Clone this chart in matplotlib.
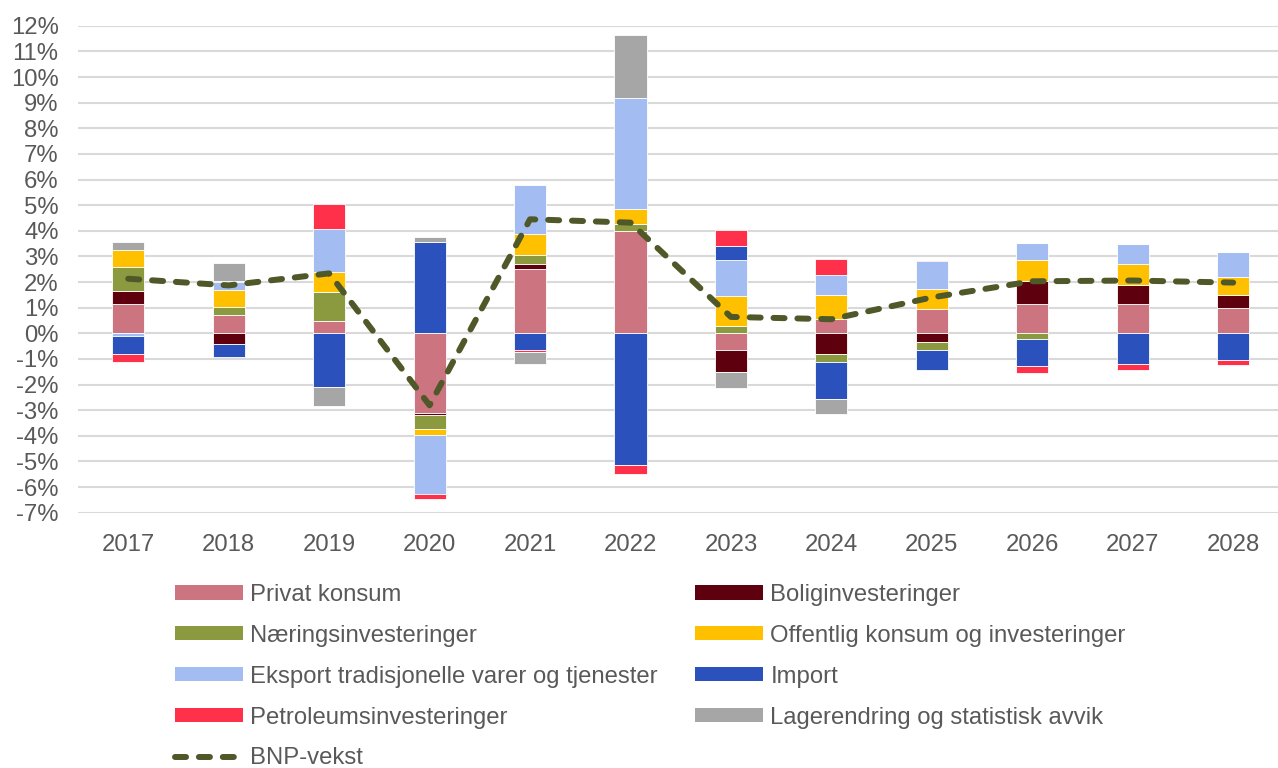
import matplotlib.pyplot as plt
import numpy as np
from matplotlib.patches import Patch
from matplotlib.lines import Line2D

plt.rcParams['font.family'] = ['Liberation Sans', 'DejaVu Sans']

years = ['2017', '2018', '2019', '2020', '2021', '2022', '2023', '2024', '2025', '2026', '2027', '2028']

# contributions to GDP growth, percentage points
privat = [1.13, 0.70, 0.48, -3.10, 2.50, 4.00, -0.66, 0.55, 0.96, 1.13, 1.14, 1.00]
bolig = [0.51, -0.40, 0.00, -0.09, 0.20, 0.00, -0.86, -0.79, -0.35, 0.90, 0.74, 0.50]
naering = [0.94, 0.31, 1.14, -0.55, 0.35, 0.28, 0.29, -0.34, -0.31, -0.23, 0.00, 0.00]
offentlig = [0.69, 0.68, 0.79, -0.23, 0.83, 0.59, 1.18, 0.93, 0.76, 0.85, 0.82, 0.70]
eksport = [-0.10, 0.30, 1.66, -2.30, 1.90, 4.30, 1.38, 0.78, 1.09, 0.66, 0.78, 0.96]
importv = [-0.72, -0.52, -2.10, 3.57, -0.65, -5.15, 0.56, -1.42, -0.78, -1.05, -1.18, -1.03]
petroleum = [-0.30, 0.07, 0.97, -0.20, -0.07, -0.33, 0.64, 0.65, 0.07, -0.26, -0.26, -0.20]
lager = [0.30, 0.68, -0.73, 0.17, -0.49, 2.47, -0.60, -0.59, 0.00, 0.00, 0.00, 0.00]
bnp = [2.13, 1.87, 2.34, -2.81, 4.45, 4.32, 0.64, 0.55, 1.40, 2.03, 2.06, 1.98]

series = [
    ('Privat konsum', privat, '#CC7480'),
    ('Boliginvesteringer', bolig, '#5E000E'),
    ('Næringsinvesteringer', naering, '#8C9A3F'),
    ('Offentlig konsum og investeringer', offentlig, '#FFC000'),
    ('Eksport tradisjonelle varer og tjenester', eksport, '#A3BDF3'),
    ('Import', importv, '#2B52BC'),
    ('Petroleumsinvesteringer', petroleum, '#FF304A'),
    ('Lagerendring og statistisk avvik', lager, '#A6A6A6'),
]
bnp_color = '#4F5828'
text_color = '#595959'
fs = 17.2

fig = plt.figure(figsize=(12.78, 7.68), dpi=100)
ax = fig.add_axes([78 / 1278, 1 - 512.7 / 768, 1205.4 / 1278, (512.7 - 25.8) / 768])

x = np.arange(len(years))
pos_bottom = np.zeros(len(years))
neg_bottom = np.zeros(len(years))
handles = {}
for name, vals, col in series:
    v = np.array(vals)
    bottom = np.where(v >= 0, pos_bottom, neg_bottom)
    ax.bar(x, v, 0.32, bottom=bottom, color=col, edgecolor='white', linewidth=0.6, zorder=2)
    pos_bottom += np.where(v >= 0, v, 0)
    neg_bottom += np.where(v < 0, v, 0)
    handles[name] = Patch(facecolor=col, edgecolor='none')

ax.plot(x, bnp, color=bnp_color, linewidth=4.3, dashes=(1.85, 2.15),
        dash_capstyle='round', zorder=3)
handles['BNP-vekst'] = Line2D([], [], color=bnp_color, linewidth=4.3,
                              dashes=(1.85, 2.15), dash_capstyle='round')

ax.set_xlim(-0.5, 11.5)
ax.set_ylim(-7, 12)
ax.set_yticks(np.arange(-7, 13, 1))
ax.set_yticklabels([f'{v}%' for v in range(-7, 13)])
ax.set_xticks(x)
ax.set_xticklabels(years)
ax.grid(axis='y', color='#D9D9D9', linewidth=1.5, zorder=0)
ax.set_axisbelow(True)
for s in ax.spines.values():
    s.set_visible(False)
ax.tick_params(axis='y', length=0, pad=14, labelsize=fs, labelcolor=text_color)
ax.tick_params(axis='x', length=0, pad=15, labelsize=fs, labelcolor=text_color)

order = ['Privat konsum', 'Næringsinvesteringer', 'Eksport tradisjonelle varer og tjenester',
         'Petroleumsinvesteringer', 'BNP-vekst', 'Boliginvesteringer',
         'Offentlig konsum og investeringer', 'Import', 'Lagerendring og statistisk avvik']
leg = fig.legend([handles[k] for k in order], order, ncol=2, frameon=False,
                 loc='upper left', bbox_to_anchor=(175 / 1278, 1 - 584 / 768),
                 borderpad=0, borderaxespad=0, fontsize=fs,
                 handlelength=2.83, handleheight=0.53, handletextpad=0.33,
                 columnspacing=1.54, labelspacing=0.79)
for t in leg.get_texts():
    t.set_color(text_color)

fig.savefig('out.png', dpi=100)
